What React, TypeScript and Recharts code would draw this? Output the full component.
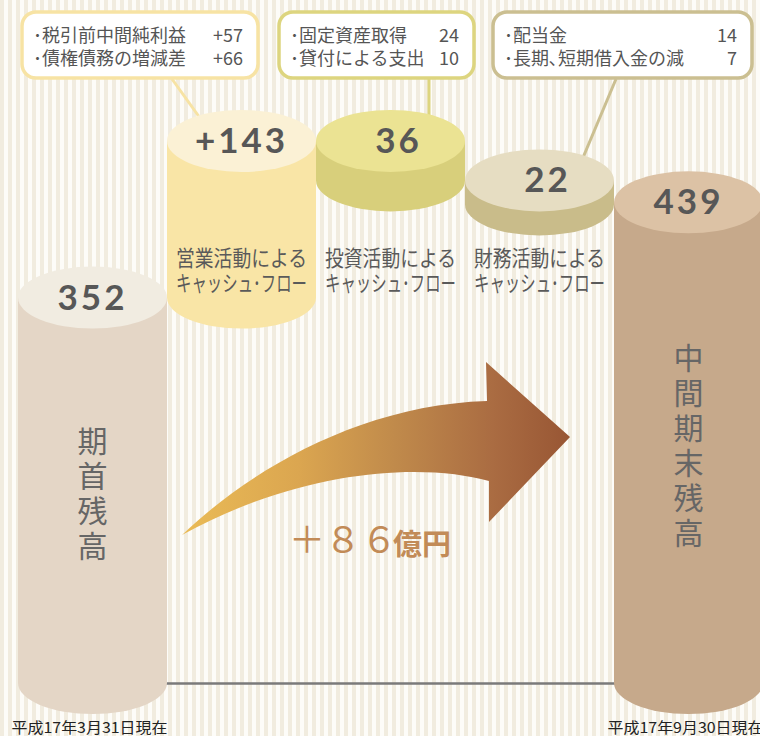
import React from 'react';
import { BarChart, Bar, XAxis, YAxis } from 'recharts';

// 連結キャッシュ・フロー（億円）
const categories = ['期首残高', '営業活動', '投資活動', '財務活動', '中間期末残高'];
const amounts = [352, 143, -36, -22, 439];
const valueLabels = ['352', '+143', '36', '22', '439'];
const dateLabels = ['平成17年3月31日現在', '', '', '', '平成17年9月30日現在'];

const operatingItems = ['･税引前中間純利益', '･債権債務の増減差'];
const operatingValues = ['+57', '+66'];
const investingItems = ['･固定資産取得', '･貸付による支出'];
const investingValues = ['24', '10'];
const financingItems = ['･配当金', '･長期､短期借入金の減'];
const financingValues = ['14', '7'];
const netChange = '＋８６';
const netUnit = '億円';

// waterfall ranges: totals start from zero, flows continue from the running balance
let running = 0;
const data = categories.map((name, i) => {
  const isTotal = i === 0 || i === categories.length - 1;
  let range: number[];
  if (isTotal) {
    range = [0, amounts[i]];
    running = amounts[i];
  } else {
    const next = running + amounts[i];
    range = [Math.min(running, next), Math.max(running, next)];
    running = next;
  }
  return { name, range };
});

const JP = "'Noto Sans CJK JP', 'Noto Sans', sans-serif";
const topFills = ['#f1ece1', '#fbf1d5', '#ebe393', '#e6ddc2', '#dcc2a5'];
const sideFills = ['#e4d6c6', '#f9e5a6', '#d8cf7b', '#c9bc8a', '#c6a98b'];
const CAP_RY = 31;
const FLOW_Y = 266;

function Cylinder(props: any) {
  const { x, y, width, height, index } = props;
  const top = Math.min(y, y + height);
  const bottom = Math.max(y, y + height);
  const rx = width / 2;
  const cx = x + rx;
  const isTotal = index === 0 || index === categories.length - 1;
  const name = categories[index];
  const mid = (top + bottom) / 2 + 3;
  // the two short flow cylinders carry their figure a little right of centre
  const labelShift = isTotal || index === 1 ? 0 : 8;
  return (
    <g>
      <path
        d={`M${x},${top} L${x},${bottom} A${rx},${CAP_RY} 0 0 0 ${x + width},${bottom} L${x + width},${top} Z`}
        fill={sideFills[index]}
      />
      <ellipse cx={cx} cy={top} rx={rx} ry={CAP_RY} fill={topFills[index]} />
      <text
        x={cx + labelShift}
        y={top + 12}
        textAnchor="middle"
        fontFamily="Lato, 'Open Sans', sans-serif"
        fontWeight={700}
        fontSize={35}
        letterSpacing={3}
        fill="#575757"
      >
        {valueLabels[index]}
      </text>
      {isTotal &&
        name.split('').map((ch, i) => (
          <text
            key={i}
            x={cx}
            y={mid + (i - (name.length - 1) / 2) * 35 + 11}
            textAnchor="middle"
            fontFamily={JP}
            fontSize={30}
            fill="#666"
          >
            {ch}
          </text>
        ))}
      {!isTotal && (
        <g fontFamily={JP} fontSize={22} fill="#5a5a5a">
          <text x={cx} y={FLOW_Y} textAnchor="middle" textLength={131} lengthAdjust="spacingAndGlyphs">
            {name + 'による'}
          </text>
          <text x={cx} y={FLOW_Y + 25} textAnchor="middle" textLength={131} lengthAdjust="spacingAndGlyphs">
            キャッシュ･フロー
          </text>
        </g>
      )}
    </g>
  );
}

function DateTick(props: any) {
  const { x, index } = props;
  const label = dateLabels[index];
  if (!label) return <g />;
  return (
    <text
      x={x - 3}
      y={733}
      textAnchor="middle"
      fontFamily={JP}
      fontSize={15}
      fill="#222"
      textLength={156}
      lengthAdjust="spacingAndGlyphs"
    >
      {label}
    </text>
  );
}

function Callout(props: {
  x: number;
  w: number;
  color: string;
  items: string[];
  values: string[];
  pointer: [number, number, number, number];
}) {
  const { x, w, color, items, values, pointer } = props;
  return (
    <g fontFamily={JP} fontSize={18} fill="#555">
      <line x1={pointer[0]} y1={pointer[1]} x2={pointer[2]} y2={pointer[3]} stroke={color} strokeWidth={3} />
      <rect x={x} y={12} width={w} height={66} rx={14} fill="#fff" stroke={color} strokeWidth={3.5} />
      {items.map((t, i) => (
        <g key={i}>
          <text x={x + 11} y={42 + i * 23}>{t}</text>
          <text x={x + w - 15} y={42 + i * 23} textAnchor="end">{values[i]}</text>
        </g>
      ))}
    </g>
  );
}

export default function App() {
  return (
    <div
      style={{
        position: 'absolute',
        left: 0,
        top: 0,
        width: 760,
        height: 736,
        overflow: 'hidden',
        background: 'repeating-linear-gradient(90deg, #f1ecdf 0px, #f1ecdf 4px, #fdfcf8 4px, #fdfcf8 8px)',
      }}
    >
      <svg width={760} height={736} style={{ position: 'absolute', left: 0, top: 0 }}>
        <defs>
          <linearGradient id="arrowGrad" gradientUnits="userSpaceOnUse" x1={182} y1={0} x2={570} y2={0}>
            <stop offset="0" stopColor="#eabb56" />
            <stop offset="0.3" stopColor="#dba650" />
            <stop offset="0.55" stopColor="#c08a4b" />
            <stop offset="0.8" stopColor="#aa6c42" />
            <stop offset="1" stopColor="#985634" />
          </linearGradient>
        </defs>
        {/* baseline between the two balance cylinders (sits behind them) */}
        <line x1={100} y1={683.5} x2={680} y2={683.5} stroke="#7a7a7a" strokeWidth={2.5} />
        <Callout x={22} w={236} color="#f7e3a4" items={operatingItems} values={operatingValues} pointer={[172, 79, 205, 125]} />
        <Callout x={279} w={195} color="#ddd57f" items={investingItems} values={investingValues} pointer={[429, 79, 429, 118]} />
        <Callout x={493} w={259} color="#cbbf91" items={financingItems} values={financingValues} pointer={[616, 79, 582, 160]} />
        <path
          d="M182,535 C250,470 360,405 487,401 L486,362 L570,437 L489,522 L489,481 C420,462 300,470 182,535 Z"
          fill="url(#arrowGrad)"
        />
        <text x={289} y={553} fontFamily={JP} fontSize={36} fill="#c28b57">
          {netChange}
        </text>
        <text x={393} y={555} fontFamily={JP} fontSize={29} fontWeight={700} fill="#c28b57">
          {netUnit}
        </text>
      </svg>
      <div style={{ position: 'absolute', left: 0, top: 0 }}>
        <BarChart
          width={772}
          height={736}
          data={data}
          margin={{ top: 26, right: 9, bottom: 0, left: 18 }}
          barCategoryGap={0}
        >
          <XAxis
            dataKey="name"
            height={53}
            interval={0}
            tickLine={false}
            axisLine={false}
            tick={<DateTick />}
          />
          <YAxis hide domain={[0, 600]} />
          <Bar dataKey="range" isAnimationActive={false} shape={(p: any) => <Cylinder {...p} />} />
        </BarChart>
      </div>
    </div>
  );
}
